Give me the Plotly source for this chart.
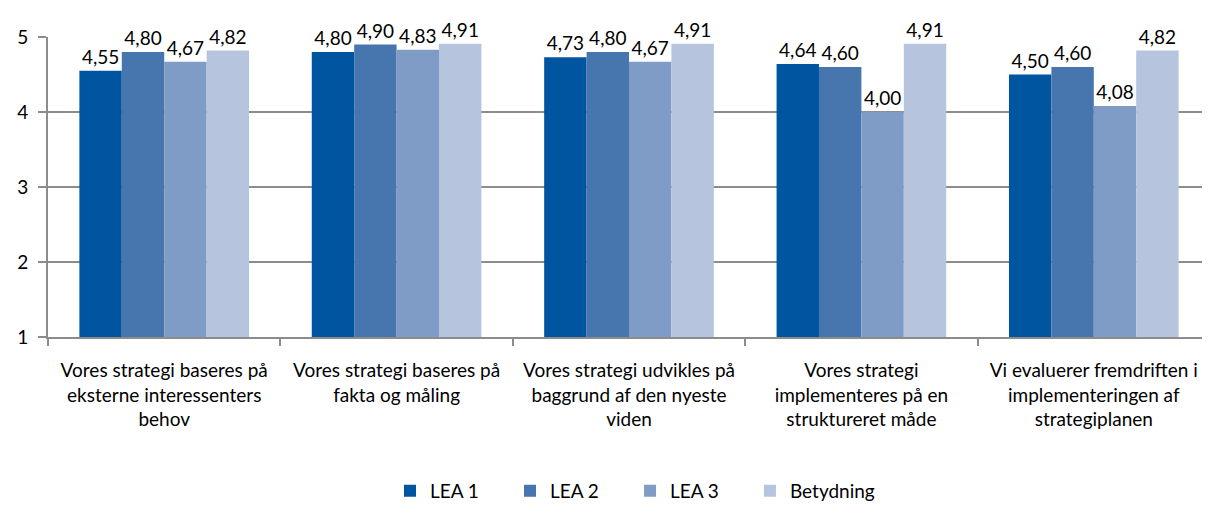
import plotly.graph_objects as go

categories = [
    "Vores strategi baseres på<br>eksterne interessenters<br>behov",
    "Vores strategi baseres på<br>fakta og måling",
    "Vores strategi udvikles på<br>baggrund af den nyeste<br>viden",
    "Vores strategi<br>implementeres på en<br>struktureret måde",
    "Vi evaluerer fremdriften i<br>implementeringen af<br>strategiplanen",
]
series_names = ["LEA 1", "LEA 2", "LEA 3", "Betydning"]
lea1 = [4.55, 4.80, 4.73, 4.64, 4.50]
lea2 = [4.80, 4.90, 4.80, 4.60, 4.60]
lea3 = [4.67, 4.83, 4.67, 4.00, 4.08]
betydning = [4.82, 4.91, 4.91, 4.91, 4.82]
y_ticks = [1, 2, 3, 4, 5]

colors = ["#0055A0", "#4776AE", "#7F9CC7", "#B6C4DE"]
FONT = "Lato, Carlito, Calibri, sans-serif"
legend_ids = ["legend", "legend2", "legend3", "legend4"]
legend_x = [0.2943, 0.3976, 0.5009, 0.6041]

fig = go.Figure()
for name, vals, col, lid in zip(series_names, [lea1, lea2, lea3, betydning], colors, legend_ids):
    fig.add_trace(go.Bar(
        name=name, x=categories, y=vals, marker=dict(color=col, line=dict(width=0)),
        texttemplate="%{y:.2f}", textposition="outside", cliponaxis=False,
        textfont=dict(size=19, color="#000000", family=FONT), legend=lid,
    ))

legends = {}
for lid, lx in zip(legend_ids, legend_x):
    legends[lid] = dict(orientation="h", x=lx, xanchor="left", y=-0.513, yanchor="middle",
                        font=dict(size=19, family=FONT), itemwidth=30,
                        bgcolor="rgba(0,0,0,0)")

fig.update_layout(
    width=1202, height=498,
    margin=dict(l=40, r=0, t=29, b=169, autoexpand=False),
    paper_bgcolor="white", plot_bgcolor="white",
    barmode="group", bargap=0.27, bargroupgap=0,
    separators=",.",
    font=dict(family=FONT, size=19, color="#000000"),
    showlegend=True,
    **legends,
)
fig.update_yaxes(range=[1, 5], tickvals=y_ticks, showgrid=True, gridcolor="#8C8C8C", gridwidth=2,
                 showline=True, linecolor="#8C8C8C", linewidth=2, ticks="outside", ticklen=8,
                 tickcolor="#8C8C8C", tickwidth=2, tickfont=dict(size=19), zeroline=False,
                 ticklabelstandoff=6, automargin=False)
fig.update_xaxes(showline=True, linecolor="#8C8C8C", linewidth=2, ticks="outside", tickson="boundaries",
                 ticklen=7, tickcolor="#8C8C8C", tickwidth=2, tickfont=dict(size=19),
                 ticklabelstandoff=15, automargin=False)

fig.write_html("out.html")
